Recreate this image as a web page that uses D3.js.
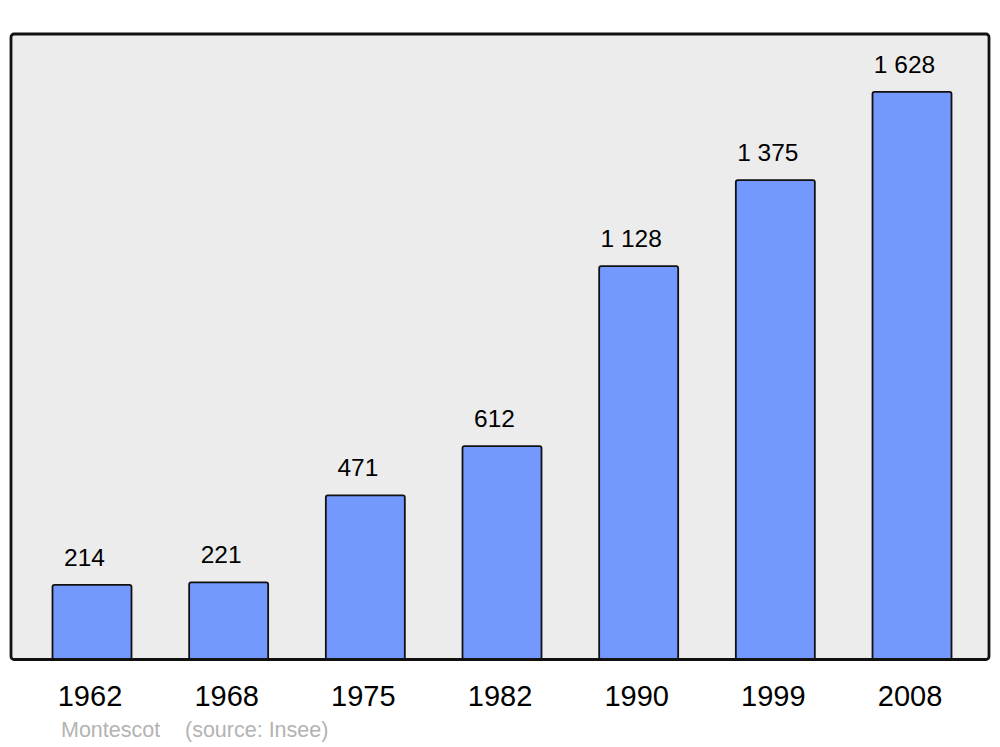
<!DOCTYPE html>
<html>
<head>
<meta charset="utf-8">
<script src="https://cdn.jsdelivr.net/npm/d3@7"></script>
<style>
html,body{margin:0;padding:0;background:#fff;}
svg{display:block;}
</style>
</head>
<body>
<script>
const years = ["1962","1968","1975","1982","1990","1999","2008"];
const population = [214, 221, 471, 612, 1128, 1375, 1628];
const valueLabels = ["214","221","471","612","1 128","1 375","1 628"];
const footerLabels = ["Montescot", "(source: Insee)"];
const yMax = 1794;

const W = 1000, H = 747;
const frame = {x0: 11, y0: 34, x1: 989, y1: 659.5};

const svg = d3.select("body").append("svg").attr("width", W).attr("height", H);

svg.append("rect")
  .attr("x", frame.x0).attr("y", frame.y0)
  .attr("width", frame.x1 - frame.x0).attr("height", frame.y1 - frame.y0)
  .attr("rx", 3).attr("ry", 3)
  .attr("fill", "#ececec");

const x = d3.scaleBand().domain(years).range([13, 991]).paddingInner(0.422).paddingOuter(0.289);
const y = d3.scaleLinear().domain([0, yMax]).range([frame.y1, frame.y0]);

const data = years.map((yr, i) => ({year: yr, value: population[i], label: valueLabels[i]}));

svg.append("g").selectAll("rect").data(data).enter().append("rect")
  .attr("x", d => x(d.year))
  .attr("y", d => y(d.value))
  .attr("width", x.bandwidth())
  .attr("height", d => y(0) - y(d.value))
  .attr("rx", 2).attr("ry", 2)
  .attr("fill", "#7399ff").attr("stroke", "#111").attr("stroke-width", 1.8);

svg.append("rect")
  .attr("x", frame.x0).attr("y", frame.y0)
  .attr("width", frame.x1 - frame.x0).attr("height", frame.y1 - frame.y0)
  .attr("rx", 3).attr("ry", 3)
  .attr("fill", "none").attr("stroke", "#111").attr("stroke-width", 2.8);

svg.append("g").selectAll("text").data(data).enter().append("text")
  .attr("x", d => x(d.year) + x.bandwidth() / 2 - 7.5)
  .attr("y", d => y(d.value) - 19)
  .attr("text-anchor", "middle")
  .attr("font-family", "Liberation Sans, Arial, sans-serif")
  .attr("font-size", 24.5)
  .attr("fill", "#000")
  .text(d => d.label);

const xAxis = d3.axisBottom(x).tickSize(0).tickPadding(0);
const gx = svg.append("g").attr("transform", `translate(0,${frame.y1})`).call(xAxis);
gx.select(".domain").remove();
gx.selectAll("text")
  .attr("y", 46)
  .attr("dy", 0)
  .attr("dx", -2)
  .attr("font-family", "Liberation Sans, Arial, sans-serif")
  .attr("font-size", 29)
  .attr("fill", "#000");

svg.append("text")
  .attr("x", 61).attr("y", 737)
  .attr("font-family", "Liberation Sans, Arial, sans-serif")
  .attr("font-size", 21.5)
  .attr("fill", "#b3b3b3")
  .text(footerLabels[0]);
svg.append("text")
  .attr("x", 185).attr("y", 737)
  .attr("font-family", "Liberation Sans, Arial, sans-serif")
  .attr("font-size", 21.5)
  .attr("fill", "#b3b3b3")
  .text(footerLabels[1]);
</script>
</body>
</html>
